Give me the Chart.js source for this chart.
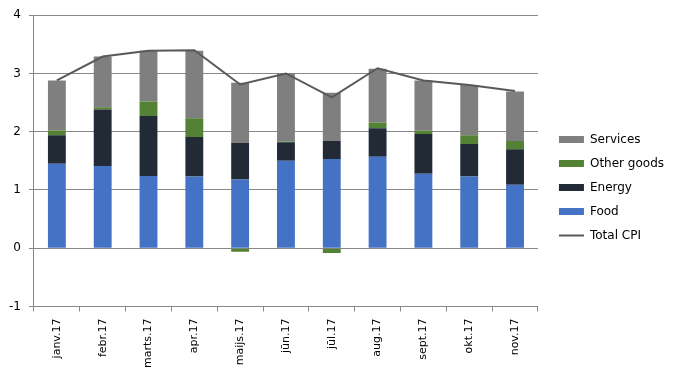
<!DOCTYPE html>
<html>
<head>
<meta charset="utf-8">
<script src="https://cdn.jsdelivr.net/npm/chart.js@4/dist/chart.umd.min.js"></script>
<style>
  html, body { margin: 0; padding: 0; background: #fff; }
  #wrap { width: 674px; height: 376px; position: relative; }
</style>
</head>
<body>
<div id="wrap"><canvas id="chartCpi"></canvas></div>
<script>
// ── CPI contributions by component ─────────────────────────
const months = ["janv.17", "febr.17", "marts.17", "apr.17", "maijs.17", "jūn.17",
  "jūl.17", "aug.17", "sept.17", "okt.17", "nov.17"];
const food = [1.45, 1.41, 1.24, 1.23, 1.18, 1.50, 1.53, 1.57, 1.28, 1.23, 1.09];
const energy = [0.49, 0.97, 1.03, 0.68, 0.63, 0.32, 0.31, 0.49, 0.68, 0.56, 0.61];
const otherGoods = [0.08, 0.04, 0.25, 0.32, -0.06, 0.01, -0.08, 0.10, 0.06, 0.15, 0.14];
const services = [0.86, 0.87, 0.87, 1.16, 1.03, 1.17, 0.83, 0.92, 0.86, 0.86, 0.85];
const totalCpi = [2.88, 3.29, 3.39, 3.40, 2.81, 3.00, 2.59, 3.09, 2.88, 2.80, 2.70];
const yTicks = [-1, 0, 1, 2, 3, 4];

const fontFamily = "Verdana, 'DejaVu Sans', sans-serif";
const gridColor = "#888888";
const legendOrder = ["Services", "Other goods", "Energy", "Food", "Total CPI"];

const bar = (label, data, color) => ({
  type: "bar",
  label,
  data,
  backgroundColor: color,
  borderWidth: 0,
  stack: "cpi",
  barPercentage: 0.39,
  categoryPercentage: 1,
  order: 2,
});

// nudge the legend up a little so it sits centred like the original
const legendNudge = {
  id: "legendNudge",
  afterLayout: (chart) => {
    if (!chart.legend) return;
    chart.legend.top -= 4;
    chart.legend.bottom -= 4;
  },
};

new Chart(document.getElementById("chartCpi"), {
  data: {
    labels: months,
    datasets: [
      bar("Food", food, "#4472C4"),
      bar("Energy", energy, "#222A35"),
      bar("Other goods", otherGoods, "#548235"),
      bar("Services", services, "#7F7F7F"),
      {
        type: "line",
        label: "Total CPI",
        data: totalCpi,
        borderColor: "#595959",
        backgroundColor: "#595959",
        borderWidth: 2,
        pointRadius: 0,
        tension: 0,
        order: 1,
      },
    ],
  },
  plugins: [legendNudge],
  options: {
    responsive: true,
    maintainAspectRatio: false,
    animation: false,
    layout: { padding: { left: 1, top: 8, right: 0, bottom: 1 } },
    scales: {
      x: {
        stacked: true,
        offset: true,
        grid: {
          offset: true,
          drawOnChartArea: false,
          drawTicks: true,
          tickLength: 5,
          color: gridColor,
        },
        border: { color: gridColor },
        ticks: {
          color: "#000",
          font: { family: fontFamily, size: 11 },
          minRotation: 90,
          maxRotation: 90,
          padding: 7,
        },
      },
      y: {
        stacked: true,
        min: yTicks[0],
        max: yTicks[yTicks.length - 1],
        afterBuildTicks: (axis) => {
          axis.ticks = yTicks.map((v) => ({ value: v }));
        },
        grid: { color: gridColor, tickLength: 5 },
        border: { color: gridColor },
        ticks: {
          color: "#000",
          font: { family: fontFamily, size: 12 },
          padding: 8,
        },
      },
      // empty axis, only keeps a gap between the plot and the legend
      gap: {
        type: "linear",
        position: "right",
        display: true,
        grid: { display: false },
        border: { display: false },
        ticks: { display: false },
        afterFit: (axis) => {
          axis.width = 9;
        },
      },
    },
    plugins: {
      legend: {
        position: "right",
        maxWidth: 200,
        labels: {
          color: "#000",
          font: { family: fontFamily, size: 12 },
          usePointStyle: true,
          pointStyleWidth: 25,
          boxHeight: 7,
          padding: 12,
          generateLabels: (chart) =>
            Chart.defaults.plugins.legend.labels.generateLabels(chart).map((item) => {
              const isLine = item.text === "Total CPI";
              item.pointStyle = isLine ? "line" : "rect";
              item.lineWidth = isLine ? 2 : 0;
              item.strokeStyle = "#595959";
              return item;
            }),
          sort: (a, b) => legendOrder.indexOf(a.text) - legendOrder.indexOf(b.text),
        },
      },
      tooltip: { enabled: false },
    },
  },
});
</script>
</body>
</html>
